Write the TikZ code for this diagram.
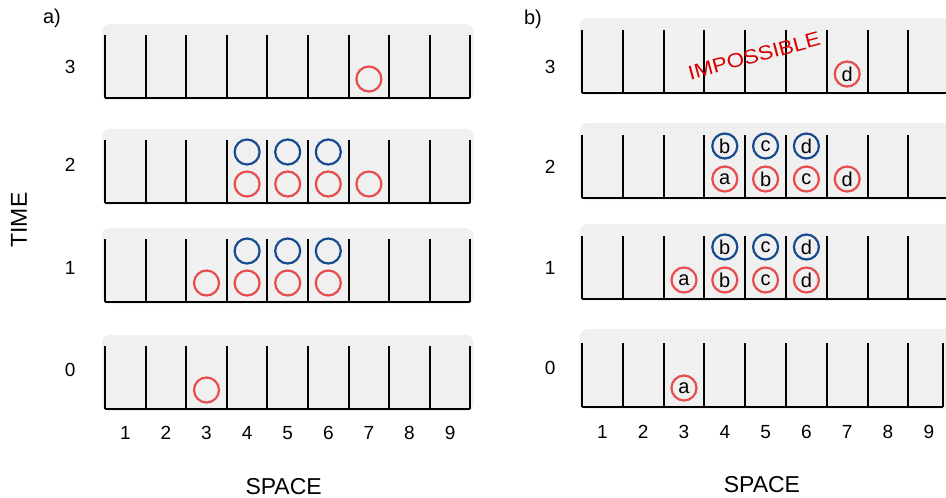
\documentclass[tikz,border=0pt]{standalone}
\usepackage{fontspec}
\setmainfont{Liberation Sans}
\begin{document}
\begin{tikzpicture}[x=1pt,y=-1pt,
    band/.style={fill=kBand,rounded corners=8pt},
    tick/.style={line width=1.9pt},
    red ball/.style={circle,draw=kRed,line width=2.2pt,minimum size=25pt,
      inner sep=0pt,font=\fontsize{20}{20}\selectfont},
    blue ball/.style={red ball,draw=kBlue},
    digit/.style={font=\fontsize{19}{19}\selectfont},
    axis/.style={font=\fontsize{23}{23}\selectfont}]
  \definecolor{kBand}{rgb}{0.94,0.94,0.94}
  \definecolor{kRed}{rgb}{0.91,0.30,0.30}
  \definecolor{kBlue}{rgb}{0.09,0.30,0.56}
  \definecolor{kAlarm}{rgb}{0.85,0.0,0.0}

  \useasboundingbox (0,0) rectangle (946,498);
  \clip (0,0) rectangle (946,498);

  % a) left panel
  \node[digit,font=\fontsize{20}{20}\selectfont] (a-label) at (52,18) {a)};
  \node[axis,rotate=90] (time) at (19,220) {TIME};
  \begin{scope}[xshift=105pt,x=40.6pt]
    % bands
    \foreach \b/\t/\d in {98/3/31,203/2/38,302/1/34,409/0/39}
    {
      \fill[band] (-0.08,\b-74) rectangle (9.08,\b+2);
      \foreach \i in {0,...,9}
        \draw[tick] (\i,\b-63) -- (\i,\b);
      \draw[tick] (0,\b) -- (9,\b);
      \node[digit] (a-row\t) at (-0.86,\b-\d) {\t};
    }

    % red circles
    \foreach \k/\t/\b in {7/3/98,
                          4/2/203,5/2/203,6/2/203,7/2/203,
                          3/1/302,4/1/302,5/1/302,6/1/302,
                          3/0/409}
    {
      \node[red ball] (a-r\t\k) at (\k-0.5,\b-19) {};
    }
    % blue circles
    \foreach \k/\t/\b in {4/2/203,5/2/203,6/2/203,
                          4/1/302,5/1/302,6/1/302}
    {
      \node[blue ball] (a-b\t\k) at (\k-0.5,\b-51) {};
    }

    % space axis
    \foreach \i in {1,...,9}
      \node[digit] (a-x\i) at (\i-0.5,433) {\i};
    \node[axis] (a-space) at (4.4,487) {SPACE};
  \end{scope}

  % b) right panel
  \node[digit,font=\fontsize{20}{20}\selectfont] (b-label) at (533,19) {b)};
  \begin{scope}[xshift=582pt,x=40.8pt]
    % bands
    \foreach \b/\t/\d in {93/3/26,198/2/31,299/1/31}
    {
      \fill[band] (-0.06,\b-75) rectangle (9.4,\b+2);
      \foreach \i in {0,...,8}
        \draw[tick] (\i,\b-63) -- (\i,\b);
      \draw[tick] (0,\b) -- (9.4,\b);
      \node[digit] (b-row\t) at (-0.78,\b-\d) {\t};
    }
    \fill[band] (-0.06,407-78) rectangle (9.4,409);
    \foreach \i in {0,...,8,8.85}
      \draw[tick] (\i,407-64) -- (\i,407);
    \draw[tick] (0,407) -- (8.85,407);
    \node[digit] (b-row0) at (-0.78,368) {0};

    \node[font=\fontsize{20}{20}\selectfont,text=kAlarm,rotate=15]
      (impossible) at (4.22,56) {\scalebox{1.12}[1]{IMPOSSIBLE}};

    % red circles
    \foreach \k/\t/\b/\n in {7/3/93/d,
                             4/2/198/a,5/2/198/b,6/2/198/c,7/2/198/d,
                             3/1/299/a,4/1/299/b,5/1/299/c,6/1/299/d,
                             3/0/407/a}
    {
      \node[red ball] (b-r\t\k) at (\k-0.5,\b-19) {\n};
    }
    % blue circles
    \foreach \k/\t/\b/\n in {4/2/198/b,5/2/198/c,6/2/198/d,
                             4/1/299/b,5/1/299/c,6/1/299/d}
    {
      \node[blue ball] (b-b\t\k) at (\k-0.5,\b-52) {\n};
    }

    % space axis
    \foreach \i in {1,...,9}
      \node[digit] (b-x\i) at (\i-0.5,432) {\i};
    \node[axis] (b-space) at (4.41,485) {SPACE};
  \end{scope}

\end{tikzpicture}
\end{document}
